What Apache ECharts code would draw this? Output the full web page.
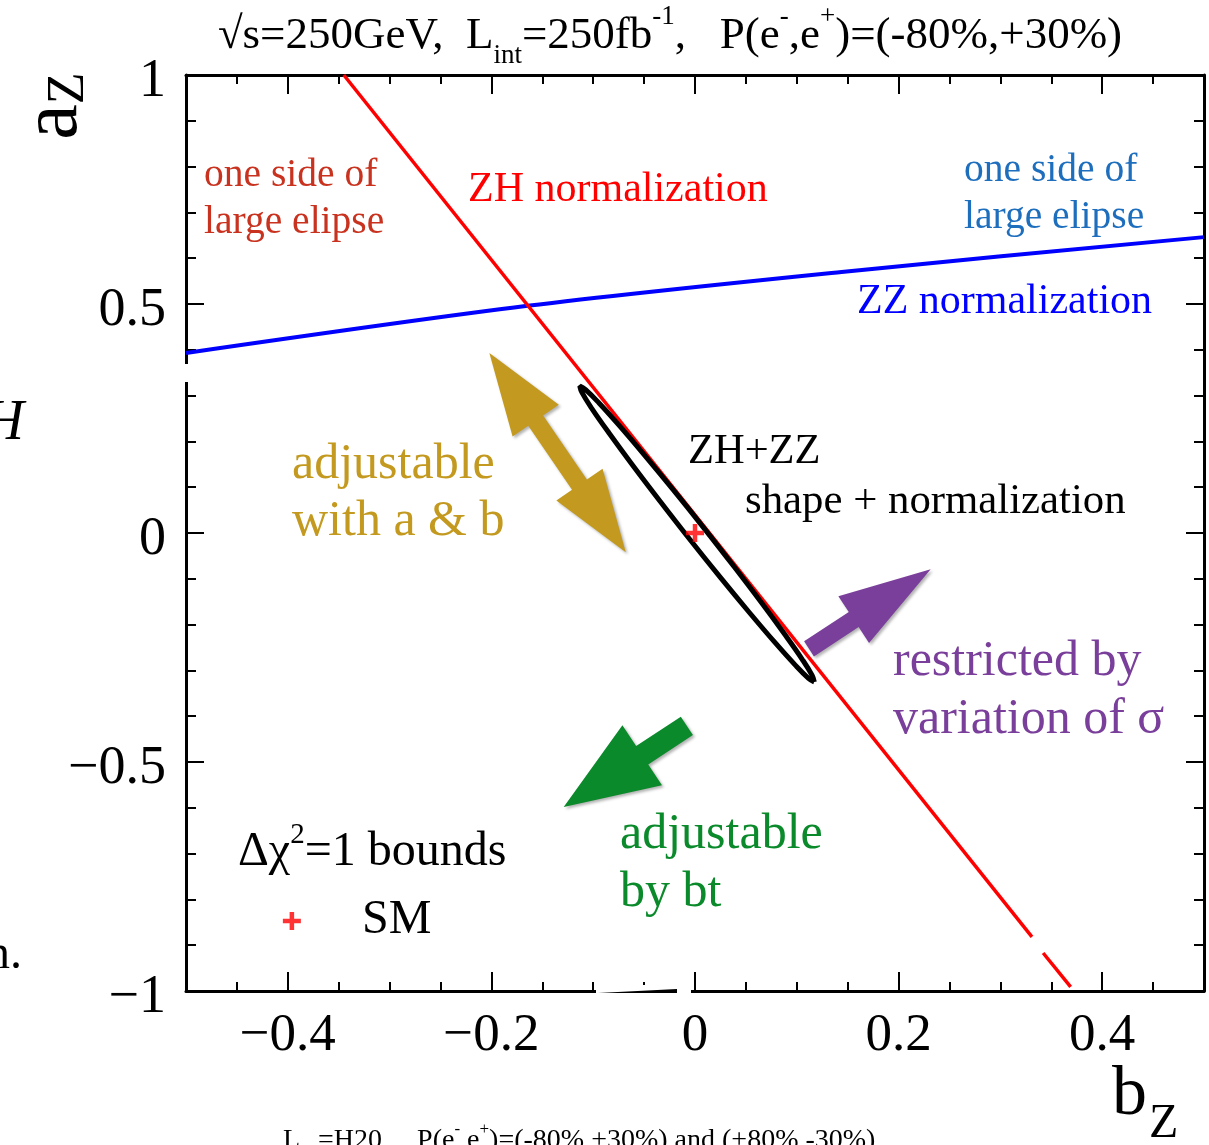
<!DOCTYPE html>
<html>
<head>
<meta charset="utf-8">
<script src="https://cdn.jsdelivr.net/npm/echarts@6/dist/echarts.min.js"></script>
<style>
html, body { margin: 0; padding: 0; background: #fff; }
#chart { width: 1209px; height: 1145px; }
</style>
</head>
<body>
<div id="chart"></div>
<script>
// tick labels
const xLabelValues = [-0.4, -0.2, 0, 0.2, 0.4];
const yLabelValues = [-1, -0.5, 0, 0.5, 1];

// ZH normalization line (red), split where the original has a small break
const zhUpper = [[-0.345, 1], [0.331, -0.882]];
const zhLower = [[0.342, -0.917], [0.369, -0.991]];

// ZZ normalization line (blue)
const zzLine = [[-0.5, 0.393], [-0.1645, 0.496], [0.144, 0.570], [0.5, 0.646]];

// delta chi2 = 1 contour, ZH+ZZ shape + normalization (b_Z, a_Z)
const ellipse = [
  [0.1172, -0.3251], [0.1151, -0.3109], [0.1053, -0.2757], [0.0883, -0.2218],
  [0.0656, -0.1531], [0.0385, -0.0739], [0.0090, 0.0102], [-0.0211, 0.0935],
  [-0.0496, 0.1701], [-0.0745, 0.2350], [-0.0943, 0.2839], [-0.1075, 0.3133],
  [-0.1132, 0.3211], [-0.1111, 0.3069], [-0.1013, 0.2717], [-0.0843, 0.2178],
  [-0.0616, 0.1491], [-0.0345, 0.0699], [-0.0050, -0.0142], [0.0251, -0.0975],
  [0.0536, -0.1741], [0.0785, -0.2390], [0.0983, -0.2879], [0.1115, -0.3173],
  [0.1172, -0.3251]
];

// SM point and the marker next to "SM"
const smPoint = [[0, 0]];
const smLegend = [[-0.396, -0.847]];

// arrows: [b from, a from, b to, a to]
const arrowGold = [[-0.202, 0.393, -0.068, -0.042]];
const arrowGreen = [[-0.008, -0.421, -0.129, -0.598]];
const arrowPurple = [[0.112, -0.253, 0.2315, -0.079]];

const serif = 'Liberation Serif';
const plusPath = 'path://M6,0H10V6H16V10H10V16H6V10H0V6H6Z';

function fmt(v) {
  const r = Math.round(v * 10) / 10;
  return r < 0 ? '\u2212' + (-r) : String(r);
}

function arrowSeries(data, color, head, headHalf, shaftHalf, twoHeads) {
  return {
    type: 'custom',
    xAxisIndex: 0,
    yAxisIndex: 0,
    data: data,
    z: 3,
    silent: true,
    encode: { x: [0, 2], y: [1, 3] },
    renderItem: function (params, api) {
      const p0 = api.coord([api.value(0), api.value(1)]);
      const p1 = api.coord([api.value(2), api.value(3)]);
      const dx = p1[0] - p0[0], dy = p1[1] - p0[1];
      const len = Math.sqrt(dx * dx + dy * dy);
      const ux = dx / len, uy = dy / len;
      const nx = -uy, ny = ux;
      const pt = (s, t) => [p0[0] + ux * s + nx * t, p0[1] + uy * s + ny * t];
      let pts;
      if (twoHeads) {
        pts = [pt(0, 0), pt(head, headHalf), pt(head, shaftHalf), pt(len - head, shaftHalf),
          pt(len - head, headHalf), pt(len, 0), pt(len - head, -headHalf),
          pt(len - head, -shaftHalf), pt(head, -shaftHalf), pt(head, -headHalf)];
      } else {
        pts = [pt(0, shaftHalf), pt(len - head, shaftHalf), pt(len - head, headHalf), pt(len, 0),
          pt(len - head, -headHalf), pt(len - head, -shaftHalf), pt(0, -shaftHalf)];
      }
      return {
        type: 'polygon',
        shape: { points: pts },
        style: { fill: color, shadowBlur: 3, shadowColor: 'rgba(0,0,0,0.3)', shadowOffsetX: 2, shadowOffsetY: 2 }
      };
    }
  };
}

function txt(x, y, text, size, color, extra) {
  return {
    type: 'text', x: x, y: y, z: 10, silent: true,
    style: Object.assign({
      text: text, fontFamily: serif, fontSize: size, fill: color,
      verticalAlign: 'middle', textAlign: 'left'
    }, extra || {})
  };
}

const tickLine = { color: '#000', width: 2 };
const frameLine = { show: true, onZero: false, lineStyle: { color: '#000', width: 3 } };
const baseX = {
  type: 'value', min: -0.5, max: 0.5, splitLine: { show: false }
};

const chart = echarts.init(document.getElementById('chart'));
chart.setOption({
  animation: false,
  backgroundColor: '#fff',
  grid: [
    { left: 186, right: 5, top: 75, bottom: 154, outerBoundsMode: 'none' },
    { left: 186, right: 5, top: 75, bottom: 154, outerBoundsMode: 'none' }
  ],
  xAxis: [
    Object.assign({}, baseX, {
      gridIndex: 0, position: 'bottom', interval: 0.05,
      axisLine: frameLine,
      axisTick: { show: true, inside: true, length: 9, lineStyle: tickLine },
      axisLabel: {
        customValues: xLabelValues, formatter: fmt, fontFamily: serif,
        fontSize: 53, color: '#000', margin: 19
      }
    }),
    Object.assign({}, baseX, {
      gridIndex: 0, position: 'top', interval: 0.05,
      axisLine: frameLine,
      axisTick: { show: true, inside: true, length: 9, lineStyle: tickLine },
      axisLabel: { show: false }
    }),
    Object.assign({}, baseX, {
      gridIndex: 1, position: 'bottom', interval: 0.1,
      axisLine: { show: false, onZero: false },
      axisTick: { show: true, inside: true, length: 19, customValues: xLabelValues, lineStyle: tickLine },
      axisLabel: { show: false }
    }),
    Object.assign({}, baseX, {
      gridIndex: 1, position: 'top', interval: 0.1,
      axisLine: { show: false, onZero: false },
      axisTick: { show: true, inside: true, length: 19, customValues: xLabelValues, lineStyle: tickLine },
      axisLabel: { show: false }
    })
  ],
  yAxis: [
    {
      gridIndex: 0, type: 'value', position: 'left', min: -1, max: 1, interval: 0.5,
      splitLine: { show: false },
      axisLine: frameLine,
      axisTick: { show: true, inside: true, length: 18, lineStyle: tickLine },
      minorTick: { show: true, splitNumber: 5, length: 10, lineStyle: tickLine },
      axisLabel: {
        customValues: yLabelValues, formatter: fmt, fontFamily: serif,
        fontSize: 54, color: '#000', margin: 20, verticalAlign: 'top', lineHeight: 14
      }
    },
    {
      gridIndex: 0, type: 'value', position: 'right', min: -1, max: 1, interval: 0.5,
      splitLine: { show: false },
      axisLine: frameLine,
      axisTick: { show: true, inside: true, length: 18, lineStyle: tickLine },
      minorTick: { show: true, splitNumber: 5, length: 10, lineStyle: tickLine },
      axisLabel: { show: false }
    },
    { gridIndex: 1, type: 'value', min: -1, max: 1, show: false }
  ],
  series: [
    {
      type: 'line', xAxisIndex: 0, yAxisIndex: 0, data: zzLine, smooth: 0.3,
      symbol: 'none', lineStyle: { color: '#0000ff', width: 4 }, z: 2
    },
    {
      type: 'line', xAxisIndex: 0, yAxisIndex: 0, data: zhUpper,
      symbol: 'none', lineStyle: { color: '#ff0000', width: 3.5 }, z: 2
    },
    {
      type: 'line', xAxisIndex: 0, yAxisIndex: 0, data: zhLower,
      symbol: 'none', lineStyle: { color: '#ff0000', width: 3.5 }, z: 2
    },
    {
      type: 'line', xAxisIndex: 0, yAxisIndex: 0, data: ellipse, smooth: 0.4,
      symbol: 'none', lineStyle: { color: '#000', width: 5 }, z: 4
    },
    {
      type: 'scatter', xAxisIndex: 0, yAxisIndex: 0, data: smPoint.concat(smLegend),
      symbol: plusPath, symbolSize: 18, itemStyle: { color: '#ff0000' }, z: 5
    },
    arrowSeries(arrowGold, '#c39a1f', 82, 28, 9, true),
    arrowSeries(arrowGreen, '#0b8a2b', 94, 36, 11, false),
    arrowSeries(arrowPurple, '#7a3f9b', 92, 28, 9, false)
  ],
  graphic: [
    // title
    {
      type: 'text', x: 670, y: 36, z: 10, silent: true,
      style: {
        text: '{b|\u221As=250GeV,  L}{sub|int}{b|=250fb}{sup|-1}{b|,   P(e}{sup|-}{b|,e}{sup|+}{b|)=(-80%,+30%)}',
        textAlign: 'center', verticalAlign: 'middle', fontFamily: serif, fill: '#000',
        rich: {
          b: { fontFamily: serif, fontSize: 45, lineHeight: 66, verticalAlign: 'middle' },
          sup: { fontFamily: serif, fontSize: 27, lineHeight: 27, verticalAlign: 'top' },
          sub: { fontFamily: serif, fontSize: 27, lineHeight: 27, verticalAlign: 'bottom' }
        }
      }
    },
    // axis names
    {
      type: 'text', x: 55, y: 106, z: 10, silent: true, rotation: Math.PI / 2,
      style: {
        text: '{a|a}{z|Z}', textAlign: 'center', verticalAlign: 'middle', fill: '#000',
        rich: {
          a: { fontFamily: serif, fontSize: 80, lineHeight: 80, verticalAlign: 'middle' },
          z: { fontFamily: serif, fontSize: 52, lineHeight: 52, verticalAlign: 'bottom' }
        }
      }
    },
    txt(1112, 1096, 'b', 70, '#000'),
    txt(1149, 1124, 'Z', 48, '#000'),
    // annotations
    txt(204, 176, 'one side of', 39.5, '#c8321e'),
    txt(204, 223, 'large elipse', 39.5, '#c8321e'),
    txt(468, 190, 'ZH normalization', 42, '#ff0000'),
    txt(964, 171, 'one side of', 39.5, '#1e6ebe'),
    txt(964, 218, 'large elipse', 39.5, '#1e6ebe'),
    txt(857, 302, 'ZZ normalization', 42, '#0000ff'),
    txt(292, 465, 'adjustable', 50, '#c39a1f'),
    txt(292, 522, 'with a & b', 50, '#c39a1f'),
    txt(688, 452, 'ZH+ZZ', 42.5, '#000'),
    txt(745, 502, 'shape + normalization', 42.8, '#000'),
    txt(893, 662, 'restricted by', 50, '#7a3f9b'),
    txt(893, 720, 'variation of \u03c3', 50, '#7a3f9b'),
    txt(620, 835, 'adjustable', 50, '#0b8a2b'),
    txt(620, 893, 'by bt', 50, '#0b8a2b'),
    {
      type: 'text', x: 238, y: 852, z: 10, silent: true,
      style: {
        text: '{b|\u0394\u03c7}{sup|2}{b|=1 bounds}',
        verticalAlign: 'middle', fontFamily: serif, fill: '#000',
        rich: {
          b: { fontFamily: serif, fontSize: 48, lineHeight: 62, verticalAlign: 'middle' },
          sup: { fontFamily: serif, fontSize: 29, lineHeight: 29, verticalAlign: 'top' }
        }
      }
    },
    txt(362, 920, 'SM', 48, '#000'),
    // fragments of the surrounding page
    txt(24, 424, 'H', 56, '#000', { textAlign: 'right', fontStyle: 'italic' }),
    txt(22, 955, 'n.', 48, '#000', { textAlign: 'right' }),
    {
      type: 'text', x: 283, y: 1141, z: 10, silent: true,
      style: {
        text: '{b|L}{sub|int}{b|=H20,    P(e}{sup|-}{b|,e}{sup|+}{b|)=(-80%,+30%) and (+80%,-30%)}',
        verticalAlign: 'middle', fontFamily: serif, fill: '#000',
        rich: {
          b: { fontFamily: serif, fontSize: 28, lineHeight: 40, verticalAlign: 'middle' },
          sup: { fontFamily: serif, fontSize: 17, lineHeight: 17, verticalAlign: 'top' },
          sub: { fontFamily: serif, fontSize: 17, lineHeight: 17, verticalAlign: 'bottom' }
        }
      }
    },
    // breaks in the frame from the original scan
    { type: 'rect', z: 9, silent: true, shape: { x: 178, y: 364, width: 14, height: 18 }, style: { fill: '#fff' } },
    { type: 'rect', z: 9, silent: true, shape: { x: 596, y: 985, width: 95, height: 12 }, style: { fill: '#fff' } },
    { type: 'polygon', z: 9, silent: true, shape: { points: [[598, 993], [677, 989], [677, 993]] }, style: { fill: '#000' } }
  ]
});
</script>
</body>
</html>
